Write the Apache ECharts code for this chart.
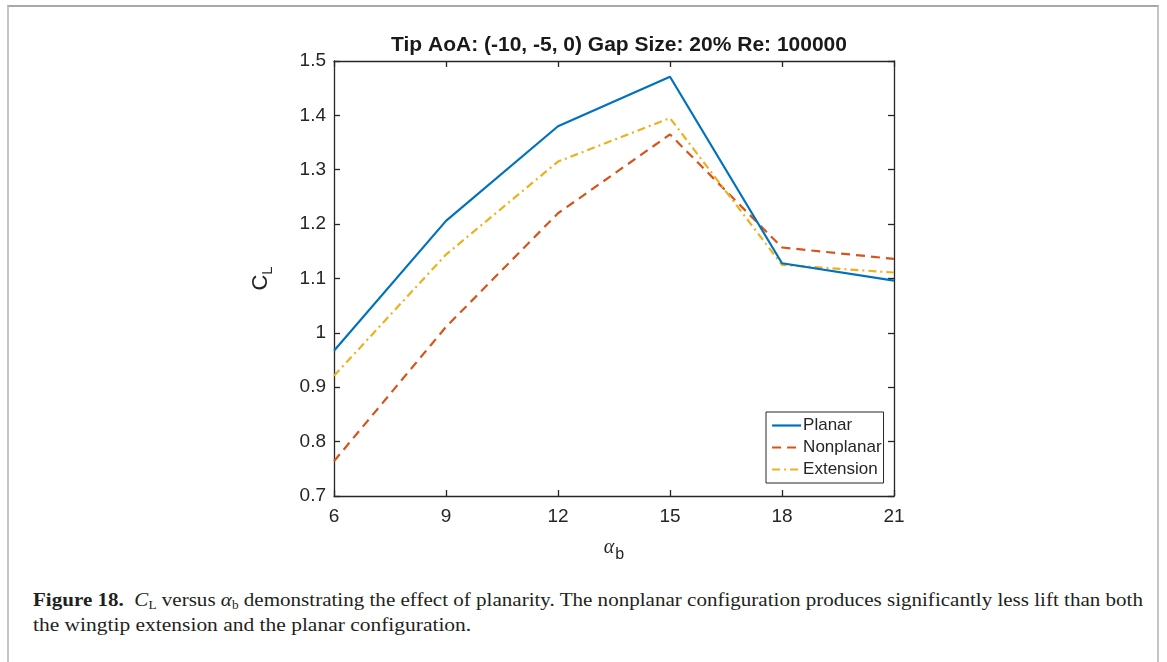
<!DOCTYPE html>
<html>
<head>
<meta charset="utf-8">
<script src="https://cdn.jsdelivr.net/npm/echarts@6/dist/echarts.min.js"></script>
<style>
  html, body { margin: 0; padding: 0; background: #fff; }
  #page { position: relative; width: 1167px; height: 662px; overflow: hidden; }
  #frame { position: absolute; left: 7px; top: 5px; width: 1148px; height: 700px;
           border-top: 2px solid #a8a8a8; border-left: 2px solid #c4c4c4; border-right: 2px solid #c4c4c4; }
  #chart { position: absolute; left: 0; top: 0; width: 1167px; height: 580px; }
  .cap { position: absolute; left: 33px; font-family: "Liberation Serif", "DejaVu Serif", serif;
         font-size: 19px; color: #231f20; line-height: 20px; white-space: nowrap; transform-origin: 0 50%; }
  #cap1 { top: 590px; }
  #cap2 { top: 615px; }
  .cap b { font-weight: bold; }
  .cap sub { font-size: 12px; vertical-align: -3px; line-height: 0; }
</style>
</head>
<body>
<div id="page">
  <div id="frame"></div>
  <div id="chart"></div>
  <span id="cap1" class="cap"><b>Figure 18.</b>&nbsp; <i>C</i><sub>L</sub> versus <i>α</i><sub>b</sub> demonstrating the effect of planarity. The nonplanar configuration produces significantly less lift than both</span>
  <span id="cap2" class="cap">the wingtip extension and the planar configuration.</span>
</div>
<script>
// Base angle of attack (deg) and lift coefficient for each configuration
const alphaB = [6, 9, 12, 15, 18, 21];
const planar = [0.967, 1.206, 1.380, 1.471, 1.128, 1.096];
const nonplanar = [0.764, 1.011, 1.220, 1.365, 1.157, 1.136];
const extension = [0.921, 1.144, 1.315, 1.395, 1.125, 1.111];
const seriesNames = ['Planar', 'Nonplanar', 'Extension'];

const pairs = (ys) => alphaB.map((x, i) => [x, ys[i]]);

// Condense the caption so the first line spans the text column
(function fitCaption() {
  const c1 = document.getElementById('cap1');
  const c2 = document.getElementById('cap2');
  const s = 1110 / c1.getBoundingClientRect().width;
  c1.style.transform = 'scaleX(' + s + ')';
  c2.style.transform = 'scaleX(' + (s * 1.02) + ')';
})();

const axisColor = '#262626';
const sans = 'Helvetica, "Liberation Sans", Arial, sans-serif';
const colors = ['#0072BD', '#D95319', '#EDB120'];
const dashes = ['solid', [9, 6], [8, 4, 2, 4]];

const chart = echarts.init(document.getElementById('chart'), null, { renderer: 'canvas' });

const baseX = {
  type: 'value', min: 6, max: 21, interval: 3,
  axisLine: { show: true, onZero: false, lineStyle: { color: axisColor, width: 1.3 } },
  axisTick: { show: true, inside: true, length: 6, lineStyle: { color: axisColor, width: 1.3 } },
  splitLine: { show: false }
};
const baseY = {
  type: 'value', min: 0.7, max: 1.5, interval: 0.1,
  axisLine: { show: true, onZero: false, lineStyle: { color: axisColor, width: 1.3 } },
  axisTick: { show: true, inside: true, length: 6, lineStyle: { color: axisColor, width: 1.3 } },
  splitLine: { show: false }
};

chart.setOption({
  animation: false,
  title: {
    text: 'Tip AoA: (-10, -5, 0) Gap Size: 20% Re: 100000',
    left: 614, top: 30, textAlign: 'center',
    textStyle: { fontFamily: sans, fontSize: 21, fontWeight: 'bold', color: '#1a1a1a' }
  },
  grid: { left: 334, top: 61, width: 560, height: 435, containLabel: false },
  legend: {
    orient: 'vertical', left: 766, top: 412,
    data: seriesNames.map((n, i) => ({ name: n, lineStyle: { color: colors[i], width: 2.2, type: dashes[i] } })),
    backgroundColor: '#fff', borderColor: '#262626', borderWidth: 1,
    padding: [5, 2, 5, 5], itemGap: 5, itemWidth: 29, itemHeight: 18,
    itemStyle: { opacity: 0 },
    textStyle: { fontFamily: sans, fontSize: 17, color: '#262626', padding: [0, 0, 0, -3] }
  },
  xAxis: [
    Object.assign({}, baseX, {
      position: 'bottom',
      name: '{a|α}{b|b}', nameLocation: 'middle', nameGap: 37,
      nameTextStyle: { rich: {
        a: { fontFamily: '"Liberation Serif", serif', fontStyle: 'italic', fontSize: 20, color: axisColor },
        b: { fontFamily: sans, fontSize: 16, color: axisColor, padding: [14, 0, 0, 1] }
      } },
      axisLabel: { fontFamily: sans, fontSize: 19, color: axisColor, margin: 11, formatter: (v) => String(v) }
    }),
    Object.assign({}, baseX, { position: 'top', axisLabel: { show: false } })
  ],
  yAxis: [
    Object.assign({}, baseY, {
      position: 'left',
      name: '{a|C}{b|L}', nameLocation: 'middle', nameGap: 59, nameRotate: 90,
      nameTextStyle: { rich: {
        a: { fontFamily: sans, fontSize: 22, color: axisColor },
        b: { fontFamily: sans, fontSize: 15, color: axisColor, padding: [14, 0, 0, 0] }
      } },
      axisLabel: { fontFamily: sans, fontSize: 19, color: axisColor, margin: 8,
                   formatter: (v) => String(Math.round(v * 10) / 10) }
    }),
    Object.assign({}, baseY, { position: 'right', axisLabel: { show: false } })
  ],
  series: seriesNames.map((n, i) => ({
    name: n, type: 'line', data: pairs([planar, nonplanar, extension][i]), symbol: 'none',
    z: i === 0 ? 3 : 2, color: colors[i],
    lineStyle: { color: colors[i], width: 2.2, type: dashes[i] }
  }))
});
</script>
</body>
</html>
